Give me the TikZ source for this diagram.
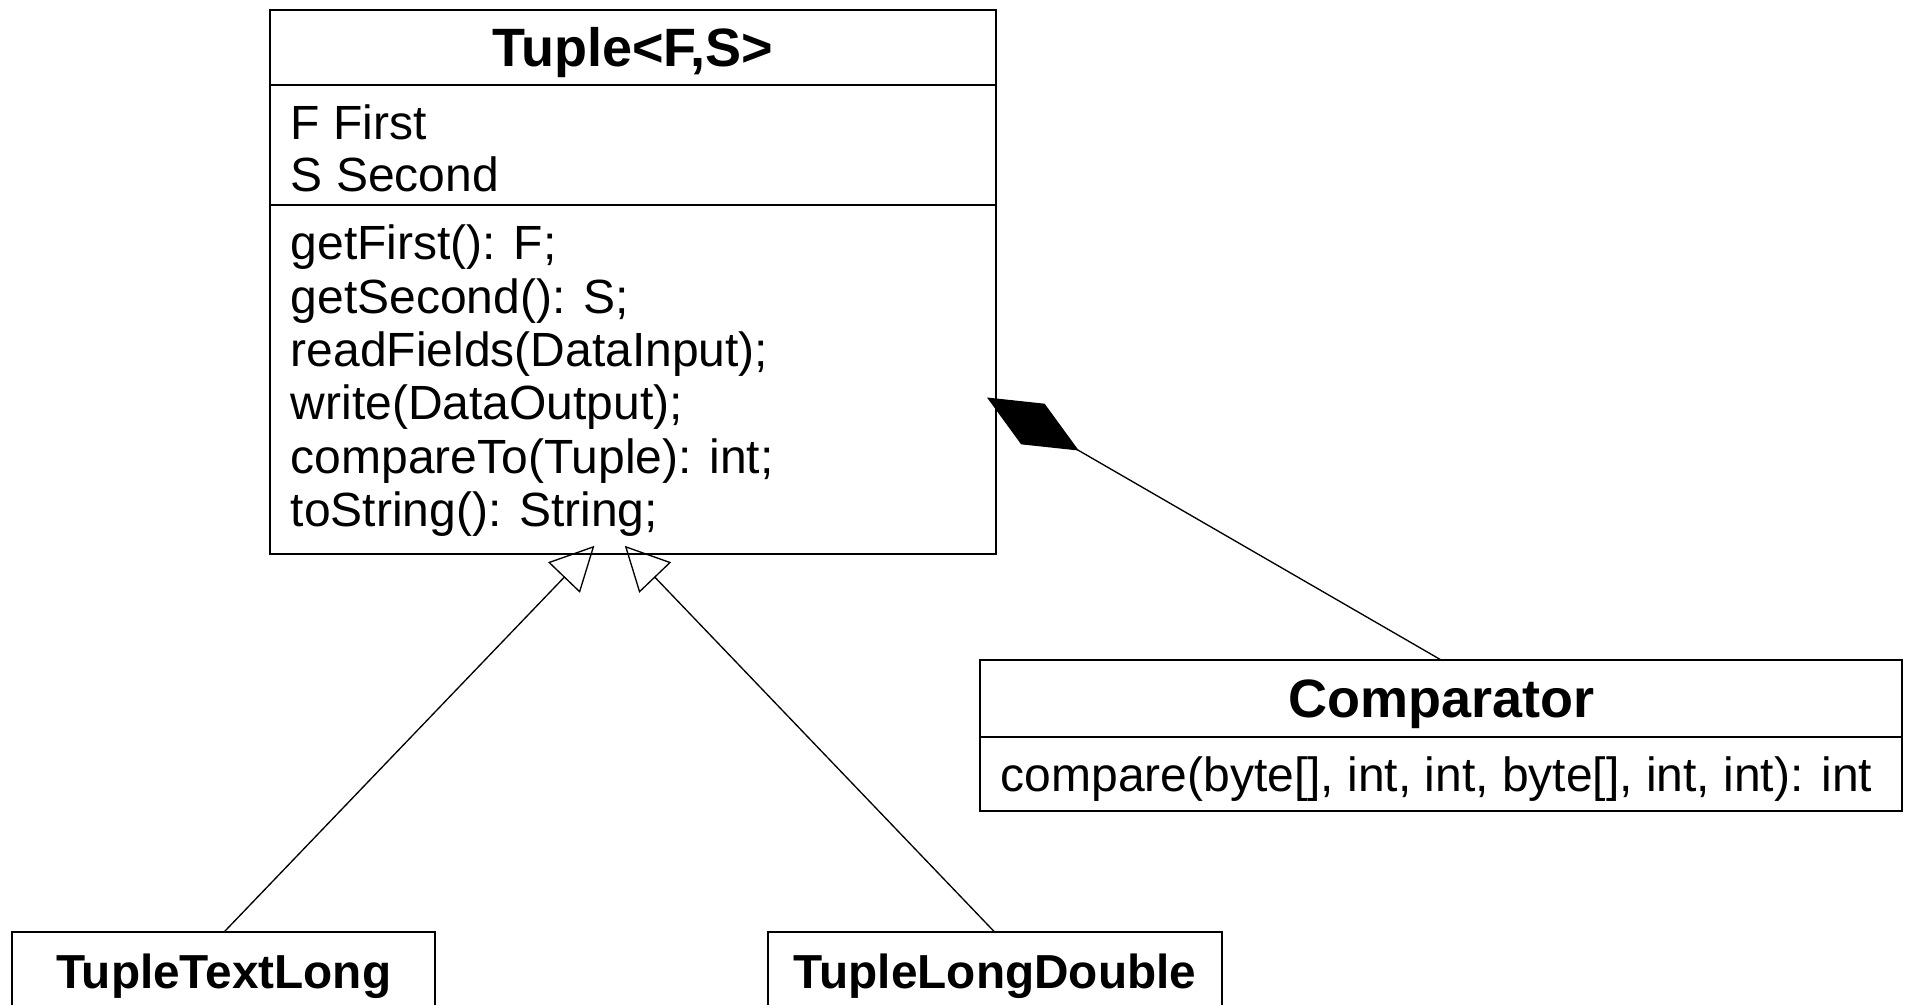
\documentclass[tikz,border=0pt]{standalone}
\usepackage{fontspec}
\setmainfont{Liberation Sans}
\usetikzlibrary{arrows.meta}
\begin{document}
\begin{tikzpicture}[x=0.75pt,y=-0.75pt,
  box/.style={draw, line width=1.5pt, inner sep=0pt, outer sep=0pt, anchor=north west},
  title/.style={inner sep=0pt, anchor=base, font=\fontsize{40.5}{48}\selectfont\bfseries},
  subtitle/.style={inner sep=0pt, anchor=base, font=\fontsize{35.8}{43}\selectfont\bfseries},
  member/.style={inner sep=0pt, anchor=base west, font=\fontsize{36}{43}\selectfont},
  gen/.style={line width=1pt, -{Triangle[open, length=33pt, width=33pt]}},
  comp/.style={line width=1pt, -{Diamond[fill=black, length=79.5pt, width=35.2pt]}}]
\useasboundingbox (0,0) rectangle (1906,1005);

% class Tuple<F,S>
\node[box, minimum width=544.3pt, minimum height=56.55pt] (tuplehead) at (269.9,9.7) {};
\node[box, minimum width=544.3pt, minimum height=90.2pt] (tupleattr) at (269.9,85.1) {};
\node[box, minimum width=544.3pt, minimum height=261.7pt] (tupleops) at (269.9,205.4) {};
\node[title] (tuplename) at (632.7,66.8) {Tuple<F,S>};
\node[member] (a1) at (290.5,139.5) {F First};
\node[member] (a2) at (290.5,191.5) {S Second};
\node[member] (m1) at (290.5,260) {getFirst(): F;};
\node[member] (m2) at (290.5,313.3) {getSecond(): S;};
\node[member] (m3) at (290.5,366.6) {readFields(DataInput);};
\node[member] (m4) at (290.5,419.9) {write(DataOutput);};
\node[member] (m5) at (290.5,473.2) {compareTo(Tuple): int;};
\node[member] (m6) at (290.5,526.5) {toString(): String;};

% class Comparator
\node[box, minimum width=692pt, minimum height=57.5pt] (cmphead) at (979.8,660) {};
\node[box, minimum width=692pt, minimum height=55.6pt] (cmpops) at (979.8,736.7) {};
\node[title] (cmpname) at (1441.1,717.5) {Comparator};
\node[member] (cm1) at (1000.4,791) {compare(byte[], int, int, byte[], int, int): int};

% subclasses
\node[box, minimum width=317.25pt, minimum height=70pt] (ttl) at (12.2,932.4) {};
\node[subtitle] (ttlname) at (223.7,988) {TupleTextLong};
\node[box, minimum width=340pt, minimum height=70pt] (tld) at (768.3,932.4) {};
\node[subtitle] (tldname) at (995,988) {TupleLongDouble};

% connector ends
\coordinate (g1) at (594.4,545.8);
\coordinate (g2) at (624.8,545.8);
\coordinate (c1) at (987,397.5);

\draw[gen] (ttl.north) -- (g1);
\draw[gen] (tld.north) -- (g2);
\draw[comp] (cmphead.north) -- (c1);
\end{tikzpicture}
\end{document}
